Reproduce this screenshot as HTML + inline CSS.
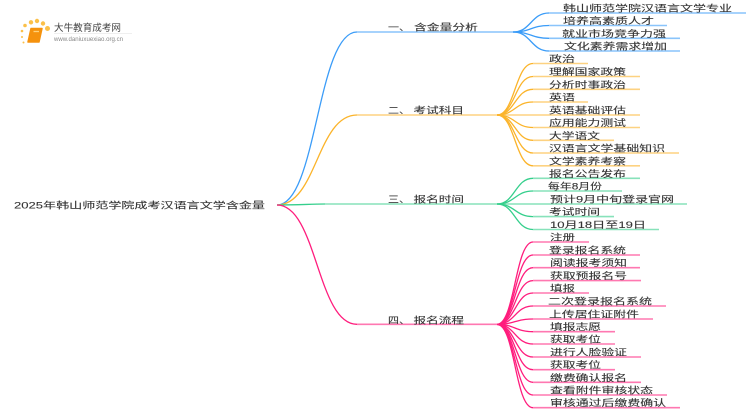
<!DOCTYPE html>
<html><head><meta charset="utf-8"><style>
html,body{margin:0;padding:0;background:#fff;width:750px;height:410px;overflow:hidden}
svg{display:block}
text{font-family:"Liberation Sans","Noto Sans CJK SC",sans-serif;font-size:9px;fill:#333;stroke:#333;stroke-width:.1;transform:translateY(1px)}
text.f{transform:none}
path{fill:none;stroke-width:1.3}
path.s{stroke-width:1.6;opacity:.6}
</style></head><body>
<svg width="750" height="410" viewBox="0 0 750 410" xmlns="http://www.w3.org/2000/svg">
<defs><filter id="b" x="-5%" y="-20%" width="110%" height="140%"><feGaussianBlur stdDeviation="0.3"/></filter></defs>

<!-- logo -->
<g filter="url(#b)">
<g fill="#fbc04a">
<circle cx="25" cy="25.500" r="1.800"/><circle cx="22" cy="31" r="1.300"/><circle cx="22" cy="37" r="1"/><circle cx="23.500" cy="42.500" r="1"/>
<circle cx="31" cy="22.300" r="2.200"/><circle cx="37" cy="21" r="2.200"/><circle cx="43" cy="23.500" r="2.200"/><circle cx="47.500" cy="28.500" r="2.500"/>
</g>
<path d="M31 28.500 H42 L39 42 H28 Z" style="fill:#f5920f;stroke:#f5920f;stroke-linejoin:round;stroke-width:1.500"/>
<path d="M33.500 31.500 H39" style="stroke:#ffd27a"/>
<text class="f" x="54" y="31" textLength="67" lengthAdjust="spacingAndGlyphs" style="font-size:9.500px;fill:#444;stroke:none">大牛教育成考网</text>
<rect x="54" y="33" width="78" height="0.700" fill="#e8e8e8"/>
<text class="f" x="54" y="41" textLength="69" lengthAdjust="spacingAndGlyphs" style="font-size:6px;fill:#888;stroke:none">www.daniuxuexiao.org.cn</text>
</g>

<g filter="url(#b)">
<text class="f" x="14" y="208.500" textLength="251" lengthAdjust="spacingAndGlyphs">2025年韩山师范学院成考汉语言文学含金量</text>

<!-- branch 1 -->
<g stroke="#3a9cf8">
<path d="M277 205 C317 205 317 32 357 32"/>
<path class="s" d="M357 32 H513"/>
<path d="M513 32 C531 32 531 13 549 13"/><path class="s" d="M549 13 H746"/>
<path d="M513 32 C531 32 531 25.500 549 25.500"/><path class="s" d="M549 25.500 H667"/>
<path d="M513 32 C531 32 531 38.300 549 38.300"/><path class="s" d="M549 38.300 H680"/>
<path d="M513 32 C531 32 531 51 549 51"/><path class="s" d="M549 51 H680"/>
</g>
<text x="388" y="29.500" textLength="22" lengthAdjust="spacingAndGlyphs">一、</text>
<text x="414" y="29.500" textLength="64" lengthAdjust="spacingAndGlyphs">含金量分析</text>
<text x="563" y="10.500" textLength="169" lengthAdjust="spacingAndGlyphs">韩山师范学院汉语言文学专业</text>
<text x="563" y="23" textLength="91" lengthAdjust="spacingAndGlyphs">培养高素质人才</text>
<text x="562" y="35.800" textLength="104" lengthAdjust="spacingAndGlyphs">就业市场竞争力强</text>
<text x="564" y="48.500" textLength="103" lengthAdjust="spacingAndGlyphs">文化素养需求增加</text>

<!-- branch 2 -->
<g stroke="#fbb42c">
<path d="M277 205 C317 205 317 115 357 115"/>
<path class="s" d="M357 115 H497"/>
<path d="M497 115 C515 115 515 63.500 533 63.500"/><path class="s" d="M533 63.500 H588"/>
<path d="M497 115 C515 115 515 76.500 533 76.500"/><path class="s" d="M533 76.500 H640"/>
<path d="M497 115 C515 115 515 89.300 533 89.300"/><path class="s" d="M533 89.300 H640"/>
<path d="M497 115 C515 115 515 102 533 102"/><path class="s" d="M533 102 H588"/>
<path class="s" d="M497 115 H640"/>
<path d="M497 115 C515 115 515 127.500 533 127.500"/><path class="s" d="M533 127.500 H640"/>
<path d="M497 115 C515 115 515 140.300 533 140.300"/><path class="s" d="M533 140.300 H614"/>
<path d="M497 115 C515 115 515 153 533 153"/><path class="s" d="M533 153 H679"/>
<path d="M497 115 C515 115 515 165.800 533 165.800"/><path class="s" d="M533 165.800 H640"/>
</g>
<text x="388" y="112.500" textLength="22" lengthAdjust="spacingAndGlyphs">二、</text>
<text x="413.500" y="112.500" textLength="50.500" lengthAdjust="spacingAndGlyphs">考试科目</text>
<text x="549" y="61" textLength="26" lengthAdjust="spacingAndGlyphs">政治</text>
<text x="549" y="74" textLength="77" lengthAdjust="spacingAndGlyphs">理解国家政策</text>
<text x="549" y="86.800" textLength="77" lengthAdjust="spacingAndGlyphs">分析时事政治</text>
<text x="549" y="99.500" textLength="26" lengthAdjust="spacingAndGlyphs">英语</text>
<text x="549" y="112.500" textLength="77" lengthAdjust="spacingAndGlyphs">英语基础评估</text>
<text x="549" y="125" textLength="77" lengthAdjust="spacingAndGlyphs">应用能力测试</text>
<text x="549" y="137.800" textLength="51" lengthAdjust="spacingAndGlyphs">大学语文</text>
<text x="549" y="150.500" textLength="116" lengthAdjust="spacingAndGlyphs">汉语言文学基础知识</text>
<text x="549" y="163.300" textLength="77" lengthAdjust="spacingAndGlyphs">文学素养考察</text>

<!-- branch 3 -->
<g stroke="#35cf8c">
<path d="M277 205 C300 205 310 204 325 204"/>
<path class="s" d="M325 204 H497"/>
<path d="M497 204 C515 204 515 178.300 533 178.300"/><path class="s" d="M533 178.300 H640"/>
<path d="M497 204 C515 204 515 191 533 191"/><path class="s" d="M533 191 H622"/>
<path class="s" d="M497 204 H687"/>
<path d="M497 204 C515 204 515 216.600 533 216.600"/><path class="s" d="M533 216.600 H614"/>
<path d="M497 204 C515 204 515 229.500 533 229.500"/><path class="s" d="M533 229.500 H659"/>
</g>
<text x="388" y="201.500" textLength="22" lengthAdjust="spacingAndGlyphs">三、</text>
<text x="413.500" y="201.500" textLength="50.500" lengthAdjust="spacingAndGlyphs">报名时间</text>
<text x="549" y="175.800" textLength="77" lengthAdjust="spacingAndGlyphs">报名公告发布</text>
<text x="548" y="188.500" textLength="54" lengthAdjust="spacingAndGlyphs">每年8月份</text>
<text x="550" y="201.500" textLength="124" lengthAdjust="spacingAndGlyphs">预计9月中旬登录官网</text>
<text x="549" y="214" textLength="51" lengthAdjust="spacingAndGlyphs">考试时间</text>
<text x="550" y="227" textLength="96" lengthAdjust="spacingAndGlyphs">10月18日至19日</text>

<!-- branch 4 -->
<g stroke="#ff1f7d">
<path d="M277 205 C317 205 317 324.300 357 324.300"/>
<path class="s" d="M357 324.300 H497"/>
<path d="M497 324.300 C515 324.300 515 242 533 242"/><path class="s" d="M533 242 H589"/>
<path d="M497 324.300 C515 324.300 515 255 533 255"/><path class="s" d="M533 255 H640"/>
<path d="M497 324.300 C515 324.300 515 267.700 533 267.700"/><path class="s" d="M533 267.700 H640"/>
<path d="M497 324.300 C515 324.300 515 280.600 533 280.600"/><path class="s" d="M533 280.600 H641"/>
<path d="M497 324.300 C515 324.300 515 293 533 293"/><path class="s" d="M533 293 H589"/>
<path d="M497 324.300 C515 324.300 515 306 533 306"/><path class="s" d="M533 306 H666"/>
<path d="M497 324.300 C515 324.300 515 319 533 319"/><path class="s" d="M533 319 H653"/>
<path d="M497 324.300 C515 324.300 515 331.700 533 331.700"/><path class="s" d="M533 331.700 H615"/>
<path d="M497 324.300 C515 324.300 515 344 533 344"/><path class="s" d="M533 344 H615"/>
<path d="M497 324.300 C515 324.300 515 357 533 357"/><path class="s" d="M533 357 H641"/>
<path d="M497 324.300 C515 324.300 515 369.700 533 369.700"/><path class="s" d="M533 369.700 H615"/>
<path d="M497 324.300 C515 324.300 515 382.300 533 382.300"/><path class="s" d="M533 382.300 H641"/>
<path d="M497 324.300 C515 324.300 515 395 533 395"/><path class="s" d="M533 395 H667"/>
<path d="M497 324.300 C515 324.300 515 407.700 533 407.700"/><path class="s" d="M533 407.700 H680"/>
</g>
<text x="388" y="322.300" textLength="22" lengthAdjust="spacingAndGlyphs">四、</text>
<text x="413.500" y="322.300" textLength="50.500" lengthAdjust="spacingAndGlyphs">报名流程</text>
<text x="550" y="239.500" textLength="25" lengthAdjust="spacingAndGlyphs">注册</text>
<text x="549" y="252.500" textLength="77" lengthAdjust="spacingAndGlyphs">登录报名系统</text>
<text x="550" y="265.200" textLength="77" lengthAdjust="spacingAndGlyphs">阅读报考须知</text>
<text x="550" y="278" textLength="77" lengthAdjust="spacingAndGlyphs">获取预报名号</text>
<text x="550" y="290.500" textLength="25" lengthAdjust="spacingAndGlyphs">填报</text>
<text x="548" y="303.500" textLength="104" lengthAdjust="spacingAndGlyphs">二次登录报名系统</text>
<text x="549" y="316.500" textLength="90" lengthAdjust="spacingAndGlyphs">上传居住证附件</text>
<text x="550" y="329.200" textLength="51" lengthAdjust="spacingAndGlyphs">填报志愿</text>
<text x="550" y="341.500" textLength="51" lengthAdjust="spacingAndGlyphs">获取考位</text>
<text x="550" y="354.500" textLength="77" lengthAdjust="spacingAndGlyphs">进行人脸验证</text>
<text x="550" y="367.200" textLength="51" lengthAdjust="spacingAndGlyphs">获取考位</text>
<text x="550" y="379.800" textLength="77" lengthAdjust="spacingAndGlyphs">缴费确认报名</text>
<text x="550" y="392.500" textLength="103" lengthAdjust="spacingAndGlyphs">查看附件审核状态</text>
<text x="550" y="405.200" textLength="116" lengthAdjust="spacingAndGlyphs">审核通过后缴费确认</text>
</g>
</svg>
</body></html>
